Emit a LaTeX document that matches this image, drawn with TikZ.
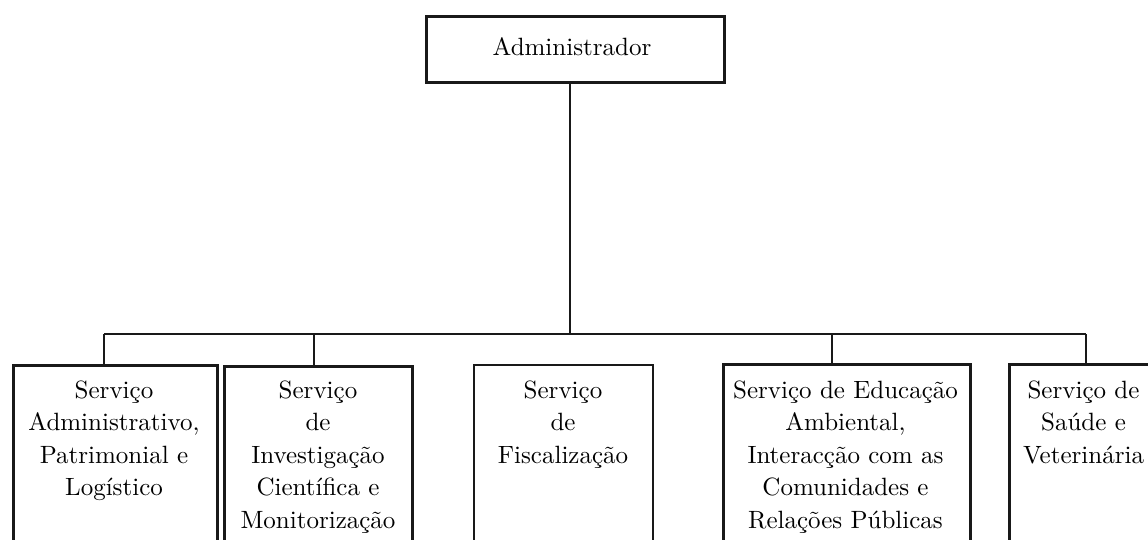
\documentclass[tikz,border=0pt]{standalone}
\usepackage{fontspec}
\begin{document}
\begin{tikzpicture}[x=1pt,y=1pt,
  box/.style={draw=black!90, line width=2.6pt, inner sep=0pt, anchor=north west},
  thinbox/.style={box, line width=2.2pt},
  txt/.style={inner sep=0pt, align=center, font=\fontsize{10}{13}\selectfont, scale=2.5, transform shape},
  lbl/.style={txt, anchor=north},
  conn/.style={line width=1.3pt, draw=black!90}]
\useasboundingbox (0,0) rectangle (1148,-539);
\clip (0,0) rectangle (1148,-539);
% top box
\node[box, minimum width=298pt, minimum height=66pt] (adm) at (425,-15) {};
\node[txt] (admt) at (572,-47) {Administrador};
% service boxes
\node[box, minimum width=204pt, minimum height=220pt] (s1) at (12,-364) {};
\node[box, minimum width=188pt, minimum height=220pt] (s2) at (223,-365) {};
\node[thinbox, minimum width=179pt, minimum height=220pt] (s3) at (473,-364) {};
\node[box, minimum width=247pt, minimum height=220pt] (s4) at (722,-363) {};
\node[box, minimum width=152pt, minimum height=220pt] (s5) at (1008,-363) {};
% texts
\node[lbl] (t1) at (114,-380) {Serviço\\Administrativo,\\Patrimonial e\\Logístico};
\node[lbl] (t2) at (318,-380) {Serviço\\de\\Investigação\\Científica e\\Monitorização};
\node[lbl] (t3) at (563,-380) {Serviço\\de\\Fiscalização};
\node[lbl] (t4) at (845.5,-380) {Serviço de Educação\\Ambiental,\\Interacção com as\\Comunidades e\\Relações Públicas};
\node[lbl] (t5) at (1083.5,-380) {Serviço de\\Saúde e\\Veterinária};
% connectors
\coordinate (c0) at (570,-334);
\coordinate (c1) at (104,-334);
\coordinate (c2) at (314,-334);
\coordinate (c4) at (832,-334);
\coordinate (c5) at (1086,-334);
\draw[conn] (adm.south -| c0) -- (c0);
\draw[conn] (c1) -- (c5);
\draw[conn] (c1) -- (c1 |- s1.north);
\draw[conn] (c2) -- (c2 |- s2.north);
\draw[conn] (c4) -- (c4 |- s4.north);
\draw[conn] (c5) -- (c5 |- s5.north);
\end{tikzpicture}
\end{document}
